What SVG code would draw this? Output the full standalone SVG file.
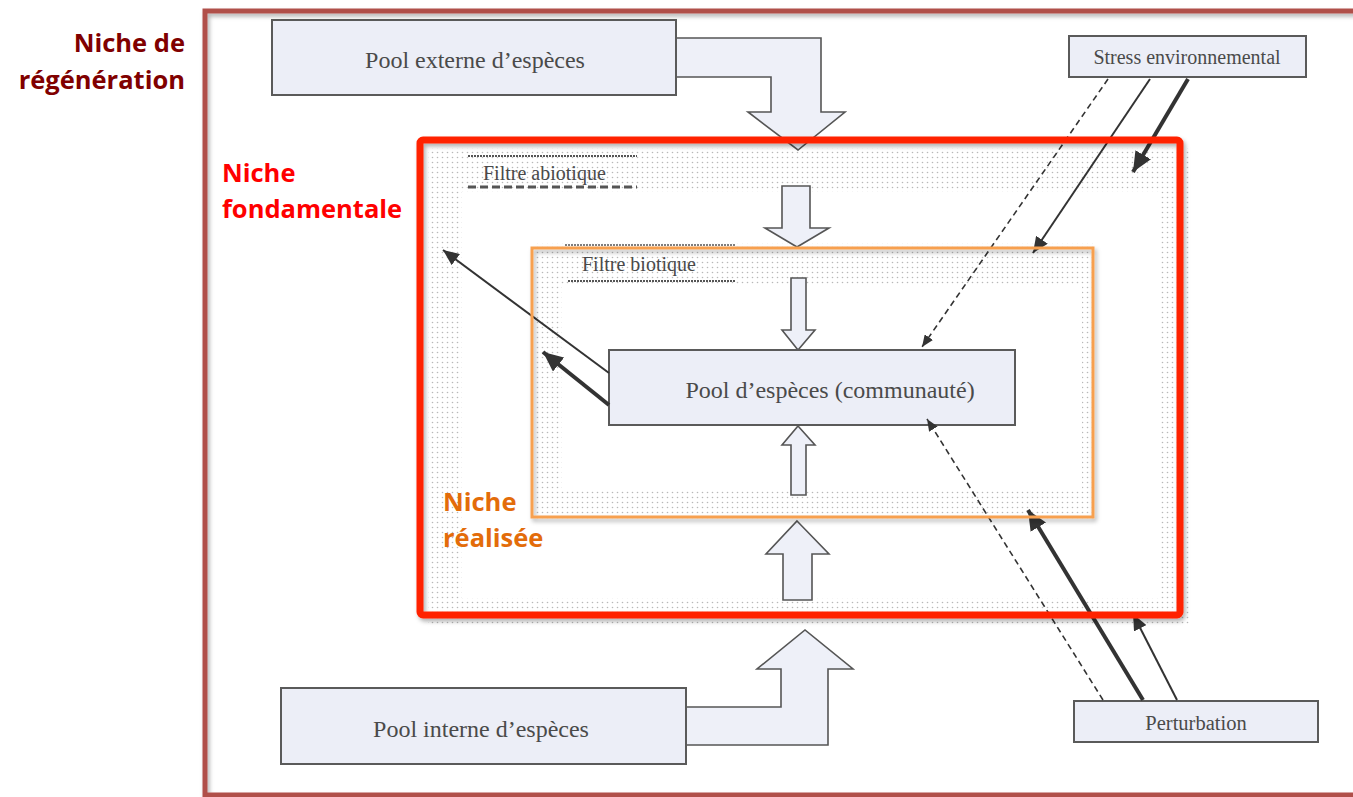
<svg xmlns="http://www.w3.org/2000/svg" width="1353" height="797" viewBox="0 0 1353 797">
  <defs>
    <style>
      .box { fill: #eceef7; stroke: #5a5a5a; stroke-width: 2; }
      .block { fill: #eef0f8; stroke: #555; stroke-width: 1.6; stroke-linejoin: miter; }
      .serif { font-family: "Liberation Serif", "Times New Roman", serif; fill: #4a4a4a; }
      .lbl { font-family: "Open Sans", Lato, "Liberation Sans", sans-serif; font-weight: bold; font-size: 25.5px; }
      .thin { stroke: #333; stroke-width: 2; fill: none; marker-end: url(#headThin); }
      .thick { stroke: #333; stroke-width: 4; fill: none; marker-end: url(#headThick); }
      .dash { stroke: #333; stroke-width: 1.6; fill: none; stroke-dasharray: 6 4; marker-end: url(#headDash); }
      .fdash { stroke: #555; fill: none; }
    </style>
    <pattern id="dots" width="5" height="5" patternUnits="userSpaceOnUse">
      <circle cx="2.5" cy="2.5" r="0.8" fill="#b8b8b8"/>
    </pattern>
    <marker id="headThin" markerUnits="userSpaceOnUse" markerWidth="18" markerHeight="14" refX="16" refY="7" orient="auto">
      <path d="M0,0 L16,7 L0,14 Z" fill="#333"/>
    </marker>
    <marker id="headThick" markerUnits="userSpaceOnUse" markerWidth="22" markerHeight="18" refX="20" refY="9" orient="auto">
      <path d="M0,0 L20,9 L0,18 Z" fill="#333"/>
    </marker>
    <marker id="headDash" markerUnits="userSpaceOnUse" markerWidth="14" markerHeight="10" refX="12" refY="5" orient="auto">
      <path d="M0,0 L12,5 L0,10 Z" fill="#333"/>
    </marker>
    <filter id="shadow" x="-5%" y="-5%" width="110%" height="110%">
      <feDropShadow dx="2" dy="3" stdDeviation="2" flood-color="#000" flood-opacity="0.3"/>
    </filter>
  </defs>

  <rect width="1353" height="797" fill="#ffffff"/>

  <!-- stippled filter zones -->
  <g id="zones">
    <path d="M428,148 H1190 V626 H428 Z M462,192 V598 H1160 V192 Z" fill="url(#dots)" fill-rule="evenodd"/>
    <path d="M534,243 H1096 V520 H534 Z M562,284 V490 H1082 V284 Z" fill="url(#dots)" fill-rule="evenodd"/>
  </g>

  <!-- filter labels -->
  <g id="filtre-abiotique">
    <line class="fdash" x1="468" y1="156" x2="637" y2="156" stroke-width="2" stroke-dasharray="2 1"/>
    <text class="serif" x="483" y="180" font-size="20">Filtre abiotique</text>
    <line class="fdash" x1="468" y1="187" x2="637" y2="187" stroke-width="3" stroke-dasharray="8 4"/>
  </g>
  <g id="filtre-biotique">
    <line class="fdash" x1="565" y1="245" x2="735" y2="245" stroke-width="1.5" stroke-dasharray="2 1"/>
    <text class="serif" x="582" y="271" font-size="20">Filtre biotique</text>
    <line class="fdash" x1="568" y1="281" x2="735" y2="281" stroke-width="2" stroke-dasharray="2 1"/>
  </g>

  <!-- block arrows -->
  <g id="flux">
    <path class="block" d="M675,38 H821 V112 H845 L798,150 L748,112 H771 V77 H675 Z"/>
    <path class="block" d="M782,186 H810 V228 H829 L797,247 L765,228 H782 Z"/>
    <path class="block" d="M791,278 H806 V330 H815 L798,350 L782,330 H791 Z"/>
    <path class="block" d="M798,426 L815,445 H806 V495 H791 V445 H782 Z"/>
    <path class="block" d="M797,521 L829,554 H812 V600 H783 V554 H766 Z"/>
    <path class="block" d="M686,707 H781 V669 H757 L805,630 L853,669 H828 V745 H686 Z"/>
  </g>

  <!-- nodes -->
  <g id="pool-externe">
    <rect class="box" x="272" y="20" width="404" height="75"/>
    <text class="serif" x="475" y="68" font-size="24" text-anchor="middle">Pool externe d’espèces</text>
  </g>
  <g id="pool-interne">
    <rect class="box" x="281" y="688" width="405" height="76"/>
    <text class="serif" x="481" y="737" font-size="24" text-anchor="middle">Pool interne d’espèces</text>
  </g>
  <g id="pool-communaute">
    <rect class="box" x="609" y="350" width="406" height="75"/>
    <text class="serif" x="830" y="398" font-size="24" text-anchor="middle">Pool d’espèces (communauté)</text>
  </g>
  <g id="stress">
    <rect class="box" x="1069" y="36" width="237" height="41"/>
    <text class="serif" x="1187" y="64" font-size="20" text-anchor="middle">Stress environnemental</text>
  </g>
  <g id="perturbation">
    <rect class="box" x="1074" y="701" width="244" height="41"/>
    <text class="serif" x="1196" y="730" font-size="20.5" text-anchor="middle">Perturbation</text>
  </g>

  <!-- connectors -->
  <g id="connectors">
    <line class="dash" x1="1108" y1="79" x2="922" y2="347"/>
    <line class="thin" x1="1150" y1="79" x2="1033" y2="253"/>
    <line class="thick" x1="1188" y1="79" x2="1133" y2="172"/>
    <line class="dash" x1="1103" y1="700" x2="927" y2="419"/>
    <line class="thick" x1="1143" y1="700" x2="1028" y2="510"/>
    <line class="thin" x1="1177" y1="700" x2="1133" y2="614"/>
    <line class="thin" x1="609" y1="373" x2="443" y2="250"/>
    <line class="thick" x1="609" y1="405" x2="543" y2="352"/>
  </g>

  <!-- niche frames -->
  <g id="niche-regeneration">
    <rect x="205" y="11" width="1160" height="784" fill="none" stroke="#b0504a" stroke-width="5" filter="url(#shadow)"/>
    <text class="lbl" x="185" y="52" fill="#800000" text-anchor="end">Niche de</text>
    <text class="lbl" x="185" y="89" fill="#800000" text-anchor="end">régénération</text>
  </g>
  <g id="niche-fondamentale">
    <rect x="420" y="140" width="760" height="475" rx="3" fill="none" stroke="#ff2200" stroke-width="7" filter="url(#shadow)"/>
    <text class="lbl" x="222" y="182" fill="#ff0000">Niche</text>
    <text class="lbl" x="222" y="218" fill="#ff0000">fondamentale</text>
  </g>
  <g id="niche-realisee">
    <rect x="532" y="248" width="561" height="269" fill="none" stroke="#f7a050" stroke-width="3" filter="url(#shadow)"/>
    <text class="lbl" x="443" y="511" fill="#e36c0a">Niche</text>
    <text class="lbl" x="443" y="547" fill="#e36c0a">réalisée</text>
  </g>
</svg>
